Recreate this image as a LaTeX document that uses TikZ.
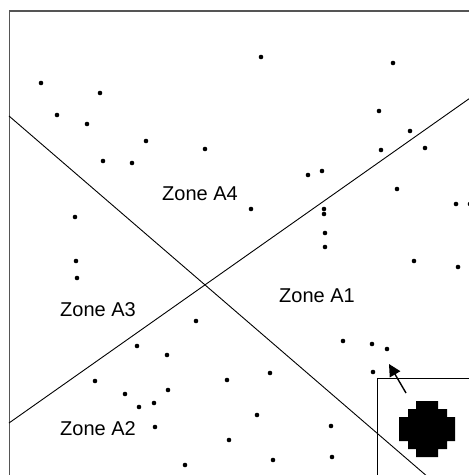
\documentclass[tikz,border=0pt]{standalone}
\usepackage{fontspec}
\setmainfont{Liberation Sans}
\usetikzlibrary{arrows.meta}
\definecolor{framegray}{RGB}{85,85,85}

\begin{document}
\begin{tikzpicture}[x=0.5pt,y=-0.5pt,every node/.style={font=\normalsize},
  sample/.style={circle,fill=black,inner sep=0pt,minimum size=2.3pt},
  zone/.style={inner sep=0pt}]
  \useasboundingbox (0,0) rectangle (469,475);
  \clip (0,0) rectangle (469,475);
  % outer frame and inset
  \draw[framegray,line width=0.6pt] (9.5,490) -- (9.5,11) -- (490,11);
  \draw[line width=0.5pt] (377,490) -- (377,378) -- (490,378);
  % zone boundaries
  \coordinate (b1s) at (9,116);
  \coordinate (b1e) at (443,490);
  \coordinate (b2s) at (9,423);
  \coordinate (b2e) at (490,84);
  \draw[line width=0.45pt] (b1s) -- (b1e);
  \draw[line width=0.45pt] (b2s) -- (b2e);
  % labels
  \node[zone] (a4) at (200,194) {Zone A4};
  \node[zone] (a3) at (98,310) {Zone A3};
  \node[zone] (a2) at (98,429) {Zone A2};
  \node[zone] (a1) at (317,296) {Zone A1};
  % sample points
  \foreach \px/\py [count=\i] in {41/83,100/93,57/115,87/124,146/141,205/149,103/161,132/163,75/217,
    261/57,393/63,379/111,410/131,381/150,425/148,308/175,322/171,397/189,251/209,456/204,470/204,
    324/209,324/214,325/233,76/261,77/278,196/321,137/346,167/355,95/381,227/380,125/394,168/390,
    154/403,139/407,155/427,229/440,185/465,325/247,414/261,458/267,343/341,372/344,387/349,
    270/373,373/372,257/415,331/426,273/460,332/457}
    \node[sample] (s\i) at (\px,\py) {};
  % magnified point
  \fill (416,401) -- (438,401) -- (438,409) -- (447,409) -- (447,417) -- (455,417) -- (455,441)
    -- (447,441) -- (447,449) -- (438,449) -- (438,457) -- (416,457) -- (416,449) -- (408,449)
    -- (408,441) -- (399,441) -- (399,417) -- (408,417) -- (408,409) -- (416,409) -- cycle;
  \coordinate (blobtop) at (406,393);
  \coordinate (target) at (389,364);
  \draw[-{Triangle[length=6pt,width=6pt]},line width=0.7pt] (blobtop) -- (target);
\end{tikzpicture}
\end{document}
